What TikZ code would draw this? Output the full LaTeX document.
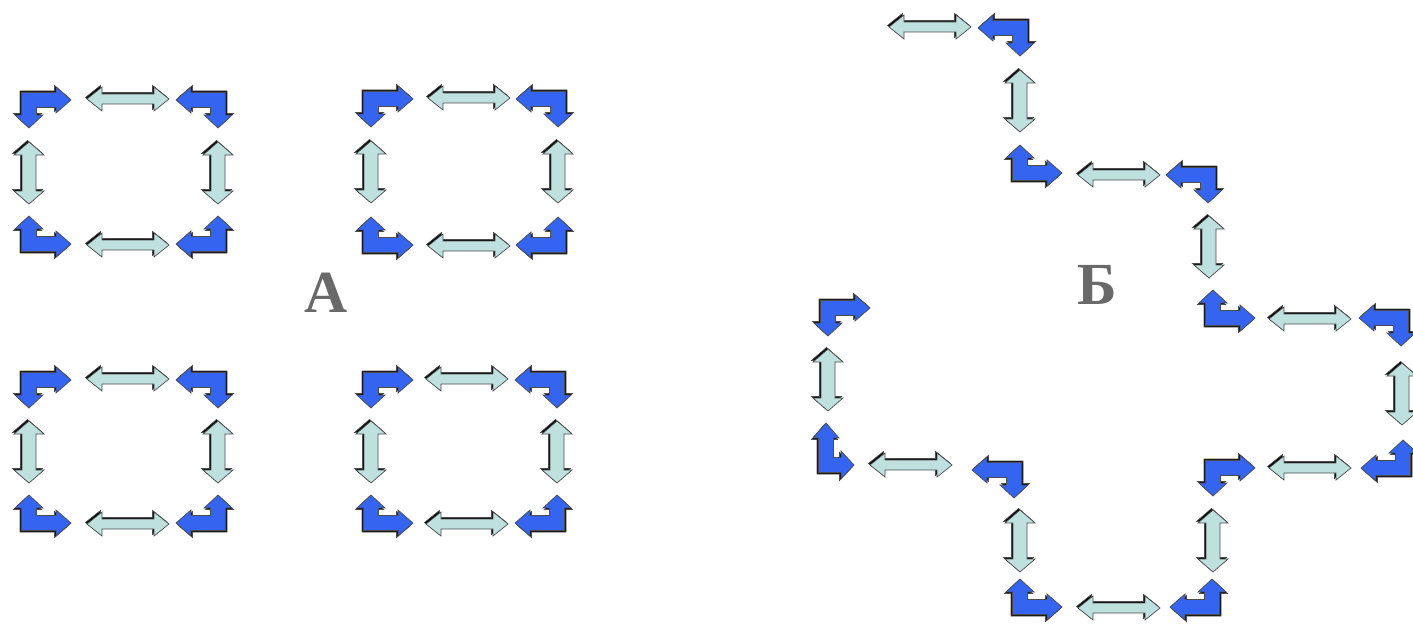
\documentclass[tikz,border=0pt]{standalone}
\usepackage{fontspec}
\setmainfont{Liberation Serif}
\usepackage{xcolor}
\definecolor{bentblue}{RGB}{52,100,240}
\definecolor{dblcyan}{RGB}{190,225,224}
\definecolor{lblgray}{RGB}{105,105,105}

\begin{document}
\begin{tikzpicture}[x=0.02cm, y=-0.02cm,
    lbl/.style={font=\fontsize{34}{40}\selectfont\bfseries, text=lblgray},
    bent/.pic={
      \foreach \dd/\col in {-1.5/black, 0/bentblue}
        \filldraw[fill=\col, draw=black!70, line width=0.4pt, shift={(\dd,\dd)}]
          (-7.5,-7.5) -- (27,-7.5) -- (27,-13) -- (42,0) -- (27,13) -- (27,7.5)
          -- (7.5,7.5) -- (7.5,15) -- (14,15) -- (0,28) -- (-14,15) -- (-7.5,15) -- cycle;
    },
    dblh/.pic={
      \foreach \dd/\col in {-1.5/black, 0/dblcyan}
        \filldraw[fill=\col, draw=black!70, line width=0.4pt, shift={(\dd,\dd)}]
          (-41,0) -- (-26,-12) -- (-26,-5) -- (26,-5) -- (26,-12) -- (41,0)
          -- (26,12) -- (26,5) -- (-26,5) -- (-26,12) -- cycle;
    },
    dblv/.pic={
      \foreach \dd/\col in {-1.5/black, 0/dblcyan}
        \filldraw[fill=\col, draw=black!70, line width=0.4pt, shift={(\dd,\dd)}]
          (0,-31) -- (-15,-18) -- (-7,-18) -- (-7,18) -- (-15,18) -- (0,31)
          -- (15,18) -- (7,18) -- (7,-18) -- (15,-18) -- cycle;
    }
]
\useasboundingbox (0,0) rectangle (1413,625);

% A: four closed squares
\foreach \xa/\xb/\xm/\ya/\yb/\ym in {29/218/128/100/244/173, 371/558/469/99/245/172,
                                     29/218/128/380/523/452, 371/557/467/380/523/452} {
  \pic at (\xa,\ya) {bent};
  \pic[xscale=-1] at (\xb,\ya) {bent};
  \pic[yscale=-1] at (\xa,\yb) {bent};
  \pic[xscale=-1, yscale=-1] at (\xb,\yb) {bent};
  \pic at (\xm,{\ya-1}) {dblh};
  \pic at (\xm,{\yb+1}) {dblh};
  \pic at (\xa,\ym) {dblv};
  \pic at (\xb,\ym) {dblv};
}
\node[lbl] (labA) at (326,293) {А};

% B: open chain
\pic at (930,27) {dblh};
\pic[xscale=-1] at (1020,28) {bent};
\pic at (1020,101) {dblv};
\pic[yscale=-1] at (1020,173) {bent};
\pic at (1119,175) {dblh};
\pic[xscale=-1] at (1208,175) {bent};
\pic at (1209,247) {dblv};
\pic[yscale=-1] at (1213,318) {bent};
\pic at (1310,319) {dblh};
\pic[xscale=-1] at (1401,318) {bent};
\pic at (1402,394) {dblv};
\pic[xscale=-1, yscale=-1] at (1403,468) {bent};
\pic at (1310,468) {dblh};
\pic at (1213,468) {bent};
\pic at (1213,541) {dblv};
\pic[xscale=-1, yscale=-1] at (1212,607) {bent};
\pic at (1119,608) {dblh};
\pic[yscale=-1] at (1020,607) {bent};
\pic at (1020,541) {dblv};
\pic[xscale=-1] at (1014,470) {bent};
\pic at (911,465) {dblh};
\pic[rotate=90] at (826,465) {bent};
\pic at (828,380) {dblv};
\pic at (828,308) {bent};
\node[lbl] (labB) at (1097,285) {Б};
\end{tikzpicture}
\end{document}
